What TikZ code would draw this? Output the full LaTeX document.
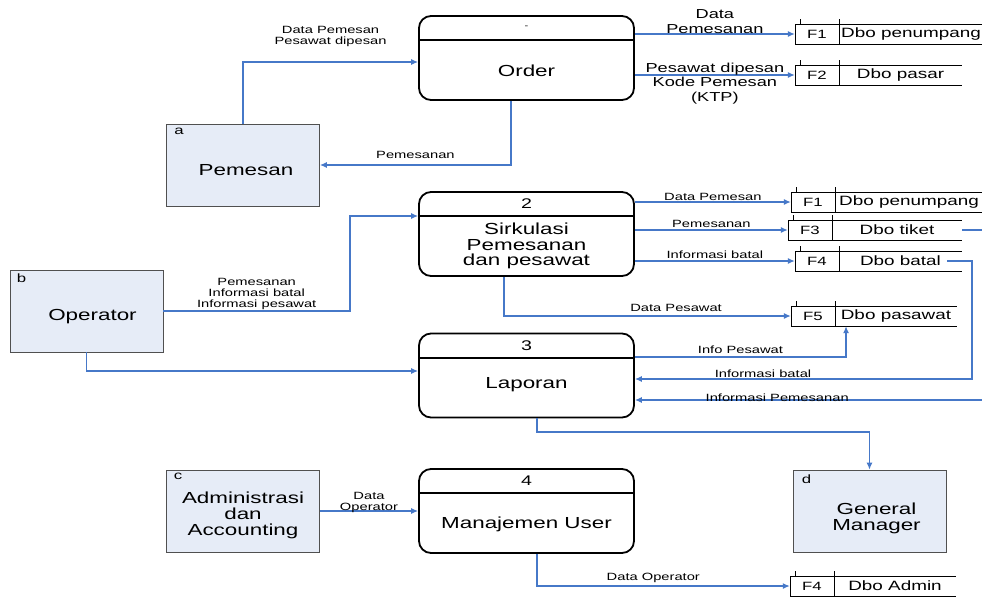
\documentclass[tikz,border=0pt]{standalone}
\usepackage{fontspec}
\setmainfont{Liberation Sans}[FakeStretch=1.4]
\usepackage{tikz}
\usetikzlibrary{calc,arrows.meta}
\definecolor{flowblue}{RGB}{70,120,200}
\definecolor{entfill}{RGB}{230,236,247}
\definecolor{entline}{RGB}{80,80,80}

\begin{document}
\begin{tikzpicture}[x=1pt, y=-1pt,
    proc/.style={draw, line width=1.8pt, rounded corners=12pt, minimum width=215pt, minimum height=84pt, inner sep=0pt},
    ptitle/.style={font=\fontsize{16}{15.5}\selectfont, align=center},
    pnum/.style={font=\fontsize{14}{14}\selectfont},
    ent/.style={draw=entline, line width=0.8pt, fill=entfill, minimum width=153pt, minimum height=82pt, inner sep=0pt},
    etext/.style={font=\fontsize{16}{16}\selectfont, align=center},
    eid/.style={font=\fontsize{12}{12}\selectfont},
    flowline/.style={draw=flowblue, line width=1.2pt},
    flow/.style={flowline, -{Latex[length=7pt,width=6pt]}},
    flabel/.style={font=\fontsize{10.5}{11}\selectfont, align=center, inner sep=1pt},
    biglabel/.style={font=\fontsize{13}{14.5}\selectfont, align=center, inner sep=1pt},
    dsline/.style={line width=1pt},
    dsid/.style={font=\fontsize{12}{12}\selectfont},
    dstext/.style={font=\fontsize{13.5}{13.5}\selectfont}]
\useasboundingbox (0,0) rectangle (982,597);

% processes
\node[proc] (order) at (526.5,58) {};
\draw[line width=1.8pt] ([yshift=-25pt]order.north west) -- ([yshift=-25pt]order.north east);
\node[font=\fontsize{8}{8}\selectfont] (order-n) at ($(order.north)+(0,12.5)$) {-};
\node[ptitle] (order-t) at ($(order.center)+(0,12.5)$) {Order};

\node[proc] (proc2) at (526.5,234) {};
\draw[line width=1.8pt] ([yshift=-25pt]proc2.north west) -- ([yshift=-25pt]proc2.north east);
\node[pnum] (proc2-n) at ($(proc2.north)+(0,13)$) {2};
\node[ptitle] (proc2-t) at ($(proc2.center)+(0,12)$) {Sirkulasi\\Pemesanan\\dan pesawat};

\node[proc] (proc3) at (526.5,375.5) {};
\draw[line width=1.8pt] ([yshift=-25pt]proc3.north west) -- ([yshift=-25pt]proc3.north east);
\node[pnum] (proc3-n) at ($(proc3.north)+(0,13)$) {3};
\node[ptitle] (proc3-t) at ($(proc3.center)+(0,9)$) {Laporan};

\node[proc] (proc4) at (526.5,511) {};
\draw[line width=1.8pt] ([yshift=-25pt]proc4.north west) -- ([yshift=-25pt]proc4.north east);
\node[pnum] (proc4-n) at ($(proc4.north)+(0,13)$) {4};
\node[ptitle] (proc4-t) at ($(proc4.center)+(0,13)$) {Manajemen User};

% external entities
\node[ent] (pemesan) at (243,165) {};
\node[eid] (pemesan-id) at ($(pemesan.north west)+(13,8)$) {a};
\node[etext] (pemesan-t) at ($(pemesan.center)+(3,5)$) {Pemesan};

\node[ent] (operator) at (86.5,311) {};
\node[eid] (operator-id) at ($(operator.north west)+(12,9)$) {b};
\node[etext] (operator-t) at ($(operator.center)+(6,6)$) {Operator};

\node[ent] (admin) at (243,511) {};
\node[eid] (admin-id) at ($(admin.north west)+(12,7)$) {c};
\node[etext] (admin-t) at ($(admin.center)+(0,4)$) {Administrasi\\dan\\Accounting};

\node[ent] (gm) at (869.5,511) {};
\node[eid] (gm-id) at ($(gm.north west)+(14,10)$) {d};
\node[etext] (gm-t) at ($(gm.center)+(7,7)$) {General\\Manager};

% data stores
\foreach \n/\x/\y/\r/\i/\t in {s1/795/34/983/F1/Dbo penumpang, s2/795/75/962/F2/Dbo pasar,
    s3/791/202/983/F1/Dbo penumpang, s4/788/230/962/F3/Dbo tiket, s5/795/261/962/F4/Dbo batal,
    s6/791/316/957/F5/Dbo pasawat, s7/790/586/956/F4/Dbo Admin} {
  \node[minimum width={(\r-\x)*1pt}, minimum height=20pt, inner sep=0pt] (\n) at ({(\x+\r)/2},\y) {};
  \draw[dsline] (\x,\y+10) -- (\x,\y-10) -- (\r,\y-10);
  \draw[dsline] (\x+5,\y-10) -- (\x+5,\y-15);
  \draw[dsline] (\x,\y+10) -- (\r,\y+10);
  \draw[dsline] (\x+44,\y-15) -- (\x+44,\y+10);
  \node[dsid] (\n-id) at (\x+22,\y) {\i};
  \node[dstext] (\n-t) at ({(\x+44+\r)/2},\y) {\t};
}
\coordinate (pin) at (982,400);
\coordinate (tout) at (982,230);

% flows
\draw[flow] (pemesan.north) |- ([yshift=-4pt]order.west) node[pos=0.75, above=14pt, flabel] {Data Pemesan\\Pesawat dipesan};
\draw[flow] (order.south -| 511,0) |- (pemesan.east) node[pos=0.75, above=5pt, flabel] {Pemesanan};
\draw[flow] (order.east |- s1) -- (s1.west) node[midway, above=-1pt, biglabel] {Data\\Pemesanan};
\draw[flow] (order.east |- s2) -- (s2.west) node[midway, below=-14pt, biglabel] {Pesawat dipesan\\Kode Pemesan\\(KTP)};

\draw[flow] (operator.east) -| (350,216) node[pos=0.25, above=0pt, flabel] {Pemesanan\\Informasi batal\\Informasi pesawat} -- (proc2.west |- 0,216);
\draw[flow] (operator.south) |- (proc3.west |- 0,371);

\draw[flow] (proc2.east |- s3) -- (s3.west) node[midway, above=0pt, flabel] {Data Pemesan};
\draw[flow] (proc2.east |- s4) -- (s4.west) node[midway, above=1pt, flabel] {Pemesanan};
\draw[flow] (proc2.east |- s5) -- (s5.west) node[midway, above=1pt, flabel] {Informasi batal};
\draw[flow] (proc2.south -| 504,0) |- (s6.west) node[pos=0.8, above=3pt, flabel] {Data Pesawat};
\draw[flowline] (s4.east) -- (tout);

\draw[flow] (proc3.east |- 0,357) -| (s6.south -| 846,0) node[pos=0.25, above=2pt, flabel] {Info Pesawat};
\draw[flow] ([xshift=-15pt]s5.east) -| (972,379) -- (proc3.east |- 0,379) node[pos=0.62, above=0pt, flabel] {Informasi batal};
\draw[flow] (pin) -- (proc3.east |- pin) node[pos=0.59, above=-3pt, flabel] {Informasi Pemesanan};
\draw[flow] (proc3.south -| 537,0) |- (gm.north |- 0,432) -- (gm.north);

\draw[flow] (admin.east) -- (proc4.west) node[midway, above=-3pt, flabel] {Data\\Operator};
\draw[flow] (proc4.south -| 537,0) |- (s7.west) node[pos=0.73, above=2pt, flabel] {Data Operator};
\end{tikzpicture}
\end{document}
